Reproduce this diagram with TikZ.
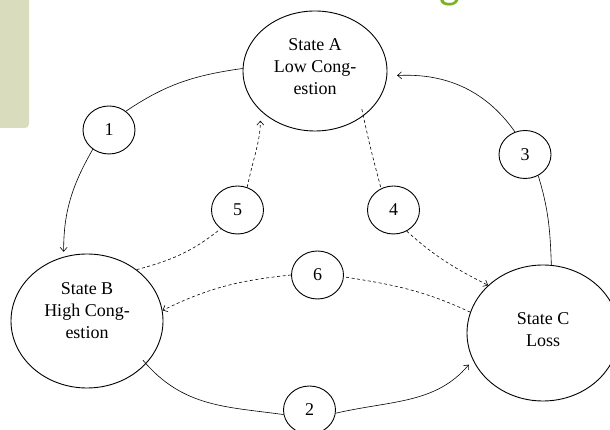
\documentclass[tikz,border=0pt]{standalone}
\usepackage{fontspec}
\setmainfont{Liberation Serif}
\newfontfamily\titlefont{Carlito}
\usetikzlibrary{shapes.geometric,arrows.meta}
\definecolor{titlegreen}{RGB}{122,178,36}
\definecolor{sidebox}{RGB}{217,221,189}
\begin{document}
\begin{tikzpicture}[x=1pt,y=1pt,
  state/.style={draw,ellipse,line width=0.9pt,inner sep=0pt},
  num/.style={draw,ellipse,line width=0.9pt,inner sep=0pt,minimum width=52pt,minimum height=48pt,font=\fontsize{18}{22}\selectfont},
  statetext/.style={align=center,font=\fontsize{18}{22}\selectfont,inner sep=0pt},
  conn/.style={line width=0.6pt},
  dconn/.style={line width=0.6pt,dash pattern=on 3pt off 2.5pt},
  arr/.style={-{Straight Barb[length=4pt,width=7pt]}}
]
\useasboundingbox (0,0) rectangle (610,430);
\clip (0,0) rectangle (610,430);
\fill[sidebox, rounded corners=4pt] (-10,302) rectangle (29,440);
\node[anchor=base west, text=titlegreen, font=\titlefont\fontsize{44}{50}\selectfont, inner sep=0pt] (title) at (95,431) {State Transition Diagram};

\node[state,minimum width=144pt,minimum height=120pt] (A) at (315,359) {};
\node[statetext] (Atext) at (315,363) {State A\\Low Cong-\\estion};
\node[state,minimum width=152pt,minimum height=134pt] (B) at (87,109) {};
\node[statetext] (Btext) at (87,119) {State B\\High Cong-\\estion};
\node[state,minimum width=152pt,minimum height=136pt] (C) at (543,97) {};
\node[statetext] (Ctext) at (543,100.5) {State C\\Loss};

\node[num] (n1) at (109,300) {1};
\node[num] (n3) at (525,275.5) {3};
\node[num] (n5) at (237.5,220) {5};
\node[num] (n4) at (393.5,220) {4};
\node[num] (n6) at (317.5,155) {6};
\node[num] (n2) at (309.5,20) {2};

\draw[conn] (A.178) to[out=188,in=34] (n1.48);
\draw[conn,arr,shorten >=5pt] (n1.230) to[out=240,in=90] (B.110.7);

\draw[conn] (C.83) to[out=92,in=287] (n3.302);
\draw[conn,arr,shorten >=10pt] (n3.114) to[out=125,in=3] (A.-4.8);

\draw[conn,shorten <=-5pt] (B.-36) to[out=-50,in=172] (n2.190);
\draw[conn,arr,shorten >=6pt] (n2.-7) to[out=13,in=230] (C.201);

\draw[dconn] (B.46.6) to[out=15,in=219] (n5.228);
\draw[dconn,arr,shorten >=10pt] (n5.67) to[out=78,in=270] (A.216.3);

\draw[dconn,shorten <=-7pt] (A.-43) to[out=282,in=105] (n4.120);
\draw[dconn,arr] (n4.-58) to[out=-42,in=153] (C.139.4);

\draw[dconn] (C.164) to[out=155,in=-9] (n6.-4);
\draw[dconn,arr] (n6.180) to[out=186,in=26] (B.8.3);
\end{tikzpicture}
\end{document}
